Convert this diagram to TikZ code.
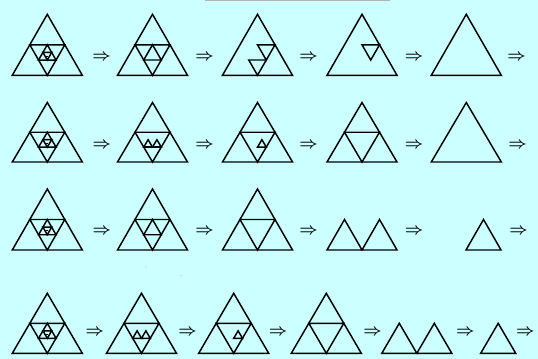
\documentclass[tikz,border=0pt]{standalone}
\usepackage{amsmath}
\begin{document}
\begin{tikzpicture}[x=0.75pt,y=-0.75pt,
  tri/.style={draw=black,line width=1.1pt,line join=miter},
  arr/.style={inner sep=0pt,font=\fontsize{13}{15}\selectfont\boldmath}]
\newcommand\UpT[4]{\draw[tri] ({#1-(#3)/2},{#2}) -- ({#1+(#3)/2},{#2}) -- ({#1},{#2-(#4)}) -- cycle;}
\newcommand\DnT[4]{\draw[tri] ({#1-(#3)/2},{#2}) -- ({#1+(#3)/2},{#2}) -- ({#1},{#2+(#4)}) -- cycle;}
\newcommand\NestT[3]{%
  \pgfmathsetmacro\hh{#3-#2}%
  \UpT{#1}{#3}{70}{\hh}%
  \DnT{#1}{#2+\hh/2}{35}{\hh/2}%
  \UpT{#1}{#2+3*\hh/4}{17.5}{\hh/4}%
  \DnT{#1}{#2+5*\hh/8}{8.75}{\hh/8}%
  \draw[tri,line width=0.8pt] ({#1-1.1},{#2+11*\hh/16}) -- ({#1+1.1},{#2+11*\hh/16});}
% background
\fill[fill={rgb,255:red,204;green,255;blue,255}] (0,0) rectangle (538,359);
\useasboundingbox (0,0) rectangle (538,359);
\fill[gray!60] (205,0) rectangle (390,1.3);
\fill[gray!50] (146,267) circle (0.7);
\fill[gray!50] (181,275.7) circle (0.7);
% ---------- row 1 ----------
\NestT{47.3}{14.3}{75.3}
\UpT{152.5}{75.3}{70}{61}\DnT{152.5}{44.8}{35}{30.5}\UpT{152.5}{60}{17.5}{15.25}
\UpT{257.5}{75.3}{70}{61}\DnT{266.25}{44.8}{17.5}{15.25}\DnT{257.5}{60}{17.5}{15.25}
\UpT{362}{75.3}{70}{61}\DnT{370.75}{44.8}{17.5}{15.25}
\UpT{466.3}{75.3}{70}{61}
\node[arr] (a11) at (101.5,57.3) {$\Rightarrow$};
\node[arr] (a12) at (204.5,57.3) {$\Rightarrow$};
\node[arr] (a13) at (308.5,57.3) {$\Rightarrow$};
\node[arr] (a14) at (414,57.3) {$\Rightarrow$};
\node[arr] (a15) at (516.5,57.3) {$\Rightarrow$};
% ---------- row 2 ----------
\NestT{47.3}{102.5}{162}
\UpT{152.5}{162}{70}{59.5}\DnT{152.5}{132.25}{35}{29.75}
\draw[tri] (143.75,147.1) -- (161.25,147.1);
\UpT{148.1}{147.1}{8.75}{7.4}\UpT{156.9}{147.1}{8.75}{7.4}
\UpT{257.5}{162}{70}{59.5}\DnT{257.5}{132.25}{35}{29.75}\UpT{261.9}{147.1}{8.75}{7.4}
\UpT{362}{162}{70}{59.5}\DnT{362}{132.25}{35}{29.75}
\UpT{466.3}{162}{70}{59.5}
\node[arr] (a21) at (101.7,145) {$\Rightarrow$};
\node[arr] (a22) at (204.5,145) {$\Rightarrow$};
\node[arr] (a23) at (308.5,145) {$\Rightarrow$};
\node[arr] (a24) at (414,145) {$\Rightarrow$};
\node[arr] (a25) at (517.5,145) {$\Rightarrow$};
% ---------- row 3 ----------
\NestT{47.3}{189}{250}
\UpT{152.5}{250}{70}{61}\DnT{152.5}{219.5}{35}{30.5}\UpT{152.5}{234.75}{17.5}{15.25}
\UpT{257.5}{250}{70}{61}\DnT{257.5}{219.5}{35}{30.5}
\UpT{344.5}{250}{35}{30.5}\UpT{379.5}{250}{35}{30.5}
\UpT{483.5}{250}{35}{30.5}
\node[arr] (a31) at (101.7,231.7) {$\Rightarrow$};
\node[arr] (a32) at (204.5,231.7) {$\Rightarrow$};
\node[arr] (a33) at (308.5,231.7) {$\Rightarrow$};
\node[arr] (a34) at (414,231.7) {$\Rightarrow$};
\node[arr] (a35) at (518.5,231.7) {$\Rightarrow$};
% ---------- row 4 ----------
\NestT{47.3}{293.3}{353.3}
\UpT{141.5}{353.3}{70}{60}\DnT{141.5}{323.3}{35}{30}
\draw[tri] (132.75,338.3) -- (150.25,338.3);
\UpT{137.1}{338.3}{8.75}{7.5}\UpT{145.9}{338.3}{8.75}{7.5}
\UpT{233.7}{353.3}{70}{60}\DnT{233.7}{323.3}{35}{30}\UpT{238.1}{338.3}{8.75}{7.5}
\UpT{326.3}{353.3}{70}{60}\DnT{326.3}{323.3}{35}{30}
\UpT{399.3}{353.3}{35}{30}\UpT{434.3}{353.3}{35}{30}
\UpT{498.2}{353.3}{35}{30}
\node[arr] (a41) at (94.8,332.3) {$\Rightarrow$};
\node[arr] (a42) at (187.5,332.3) {$\Rightarrow$};
\node[arr] (a43) at (278,332.3) {$\Rightarrow$};
\node[arr] (a44) at (372.5,332.3) {$\Rightarrow$};
\node[arr] (a45) at (465.2,332.3) {$\Rightarrow$};
\node[arr] (a46) at (525.3,332.3) {$\Rightarrow$};
\end{tikzpicture}
\end{document}
